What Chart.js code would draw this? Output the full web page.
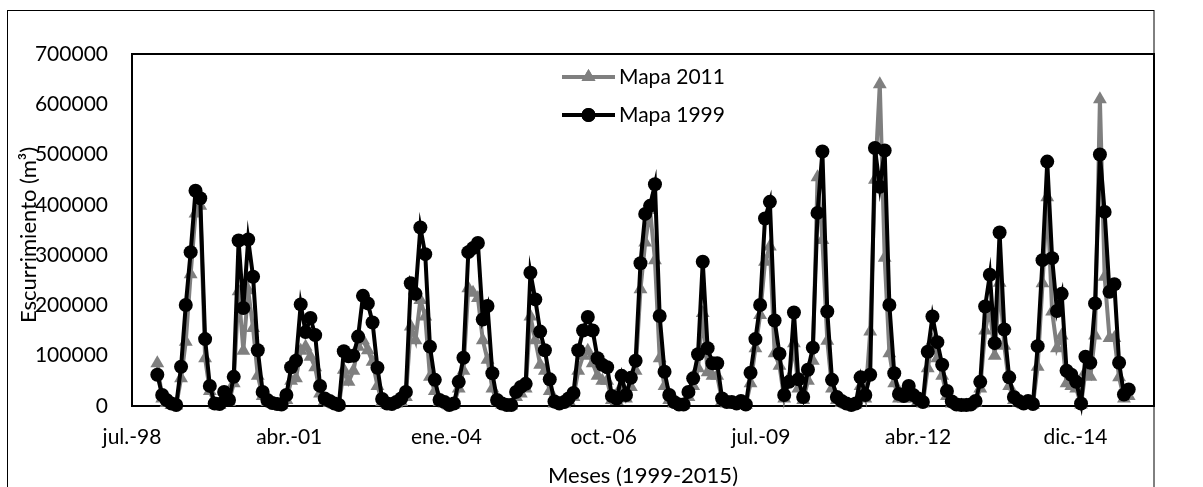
<!DOCTYPE html>
<html>
<head>
<meta charset="utf-8">
<script src="https://cdn.jsdelivr.net/npm/chart.js@4.4.1/dist/chart.umd.min.js"></script>
<style>
  html, body { margin: 0; padding: 0; background: #fff; }
  #grafico { display: block; }
</style>
</head>
<body>
<canvas id="grafico" width="1203" height="487"></canvas>
<script>
// Escurrimiento mensual, enero 1999 - diciembre 2015 (m3)
const primerAnio = 1999
const primerMes = 0

const mapa1999 = [
    62000, 22000, 12000, 5000, 2000, 78000, 201000, 306000, 428000, 413000, 133000, 40000,
    5000, 4000, 28000, 12000, 58000, 329000, 195000, 331000, 257000, 111000, 28000, 12000,
    6000, 4000, 3000, 22000, 77000, 90000, 202000, 147000, 175000, 141000, 40000, 15000,
    10000, 5000, 2000, 109000, 99000, 100000, 138000, 219000, 204000, 166000, 76000, 14000,
    5000, 4000, 8000, 15000, 28000, 244000, 223000, 355000, 302000, 118000, 52000, 12000,
    8000, 2000, 5000, 48000, 96000, 306000, 314000, 324000, 172000, 199000, 65000, 12000,
    5000, 2000, 2000, 28000, 38000, 44000, 265000, 212000, 148000, 111000, 53000, 9000,
    5000, 8000, 15000, 26000, 111000, 150000, 177000, 150000, 95000, 82000, 77000, 20000,
    15000, 60000, 22000, 56000, 90000, 284000, 382000, 398000, 441000, 179000, 68000, 22000,
    8000, 3000, 3000, 28000, 55000, 103000, 287000, 115000, 85000, 85000, 15000, 8000,
    8000, 5000, 10000, 3000, 66000, 133000, 201000, 373000, 406000, 170000, 104000, 22000,
    48000, 186000, 53000, 18000, 72000, 116000, 384000, 506000, 188000, 52000, 18000, 10000,
    5000, 2000, 5000, 57000, 22000, 62000, 513000, 436000, 508000, 201000, 65000, 24000,
    20000, 40000, 22000, 15000, 8000, 108000, 178000, 127000, 82000, 30000, 9000, 3000,
    2000, 2000, 3000, 10000, 48000, 198000, 261000, 125000, 345000, 152000, 57000, 18000,
    10000, 5000, 10000, 4000, 119000, 290000, 486000, 294000, 189000, 223000, 70000, 62000,
    48000, 5000, 98000, 86000, 204000, 500000, 386000, 227000, 242000, 86000, 23000, 33000
]

const mapa2011 = [
    85000, 15000, 6000, 2000, 1000, 55000, 128000, 262000, 383000, 398000, 95000, 30000,
    3000, 2000, 18000, 8000, 45000, 228000, 110000, 230000, 155000, 60000, 20000, 8000,
    4000, 2000, 2000, 12000, 50000, 55000, 110000, 118000, 98000, 77000, 25000, 10000,
    6000, 3000, 1000, 72000, 48000, 70000, 118000, 131000, 111000, 88000, 40000, 8000,
    3000, 2000, 5000, 8000, 18000, 158000, 131000, 211000, 178000, 58000, 30000, 8000,
    5000, 1000, 3000, 35000, 70000, 234000, 225000, 215000, 131000, 92000, 35000, 8000,
    3000, 1000, 1000, 18000, 25000, 35000, 178000, 131000, 82000, 70000, 30000, 5000,
    3000, 5000, 10000, 18000, 70000, 100000, 110000, 85000, 60000, 50000, 50000, 12000,
    10000, 40000, 15000, 38000, 70000, 232000, 325000, 390000, 290000, 95000, 40000, 12000,
    5000, 2000, 2000, 18000, 40000, 75000, 185000, 67000, 60000, 60000, 10000, 5000,
    5000, 3000, 7000, 2000, 45000, 115000, 181000, 287000, 317000, 105000, 80000, 15000,
    55000, 125000, 35000, 12000, 50000, 90000, 455000, 330000, 130000, 35000, 12000, 6000,
    3000, 1000, 3000, 40000, 15000, 148000, 450000, 640000, 295000, 105000, 45000, 15000,
    15000, 28000, 15000, 10000, 5000, 75000, 130000, 95000, 60000, 20000, 5000, 2000,
    1000, 1000, 2000, 7000, 35000, 150000, 195000, 100000, 245000, 120000, 40000, 12000,
    7000, 3000, 7000, 2000, 78000, 244000, 415000, 188000, 115000, 140000, 45000, 40000,
    35000, 3000, 68000, 58000, 140000, 610000, 257000, 135000, 135000, 57000, 15000, 20000
]

// eje de fechas en numero de serie (dias desde 30/12/1899), marcas cada 1000 dias
const marcas = [36000, 37000, 38000, 39000, 40000, 41000, 42000]
const etiquetas = ['jul.-98', 'abr.-01', 'ene.-04', 'oct.-06', 'jul.-09', 'abr.-12', 'dic.-14']

function serieFecha(anio, mes) {
    return (Date.UTC(anio, mes, 1) - Date.UTC(1899, 11, 30)) / 86400000
}

let fechas = mapa1999.map((v, i) => serieFecha(primerAnio, primerMes + i))

const fuente = 'Lato, "Open Sans", sans-serif'
Chart.defaults.font.family = fuente
Chart.defaults.color = '#000'

// marcos, leyenda y titulos de ejes
const marco = {
    id: 'marco',
    beforeDraw(chart) {
        let ctx = chart.ctx
        ctx.save()
        ctx.fillStyle = '#fff'
        ctx.fillRect(0, 0, chart.width, chart.height)
        ctx.strokeStyle = '#000'
        ctx.lineWidth = 1
        ctx.strokeRect(7.5, 10.5, 1146.5, 490)
        ctx.restore()
    },
    beforeDatasetsDraw(chart) {
        let ctx = chart.ctx
        let a = chart.chartArea
        ctx.save()
        ctx.strokeStyle = '#000'
        ctx.lineWidth = 2
        ctx.strokeRect(a.left, a.top, a.right - a.left, a.bottom - a.top)
        ctx.restore()
    },
    afterDraw(chart) {
        let ctx = chart.ctx
        ctx.save()
        ctx.fillStyle = '#000'
        ctx.textBaseline = 'middle'

        // leyenda
        let filas = [77, 115]
        chart.data.datasets.forEach((ds, i) => {
            let y = filas[i]
            ctx.strokeStyle = ds.borderColor
            ctx.lineWidth = ds.borderWidth
            ctx.beginPath()
            ctx.moveTo(562, y)
            ctx.lineTo(615, y)
            ctx.stroke()
            ctx.fillStyle = ds.backgroundColor
            Chart.helpers.drawPoint(ctx, {
                pointStyle: ds.pointStyle,
                radius: ds.pointRadius,
                rotation: 0,
                borderWidth: 0
            }, 588.5, y)
            ctx.fill()
            ctx.fillStyle = '#000'
            ctx.font = '21px ' + fuente
            ctx.textAlign = 'left'
            ctx.fillText(ds.label, 619, y)
        })

        // titulos de ejes
        ctx.font = '22px ' + fuente
        ctx.textAlign = 'center'
        ctx.fillText('Meses (1999-2015)', 643, 476)
        ctx.translate(29, 235)
        ctx.rotate(-Math.PI / 2)
        ctx.fillText('Escurrimiento (m³)', 0, 0)
        ctx.restore()
    }
}

new Chart(document.querySelector('#grafico'), {
    type: 'line',
    data: {
        datasets: [
            {
                label: 'Mapa 2011',
                data: fechas.map((x, i) => ({ x: x, y: mapa2011[i] })),
                borderColor: '#7f7f7f',
                backgroundColor: '#7f7f7f',
                borderWidth: 4,
                pointStyle: 'triangle',
                pointRadius: 8,
                pointBorderWidth: 0,
                tension: 0,
                clip: false,
                order: 2
            },
            {
                label: 'Mapa 1999',
                data: fechas.map((x, i) => ({ x: x, y: mapa1999[i] })),
                borderColor: '#000',
                backgroundColor: '#000',
                borderWidth: 4,
                pointStyle: 'circle',
                pointRadius: 7,
                pointBorderWidth: 0,
                tension: 0,
                clip: false,
                order: 1
            }
        ]
    },
    options: {
        responsive: false,
        animation: false,
        devicePixelRatio: 1,
        layout: {
            padding: { top: 54, right: 49, left: 0, bottom: 0 }
        },
        plugins: {
            legend: { display: false },
            tooltip: { enabled: false }
        },
        scales: {
            x: {
                type: 'linear',
                min: 36000,
                max: 42500,
                afterBuildTicks: scale => {
                    scale.ticks = marcas.map(v => ({ value: v }))
                },
                afterFit: scale => {
                    scale.height = 81
                },
                grid: { display: false, drawTicks: false },
                border: { display: false },
                ticks: {
                    padding: 19,
                    maxRotation: 0,
                    autoSkip: false,
                    color: '#000',
                    font: { size: 21 },
                    callback: v => {
                        let i = marcas.indexOf(v)
                        return i >= 0 ? etiquetas[i] : ''
                    }
                }
            },
            y: {
                min: 0,
                max: 700000,
                afterFit: scale => {
                    scale.width = 132
                },
                grid: { display: false, drawTicks: false },
                border: { display: false },
                ticks: {
                    stepSize: 100000,
                    padding: 24,
                    color: '#000',
                    font: { size: 21 },
                    callback: v => String(v)
                }
            }
        }
    },
    plugins: [marco]
})
</script>
</body>
</html>
